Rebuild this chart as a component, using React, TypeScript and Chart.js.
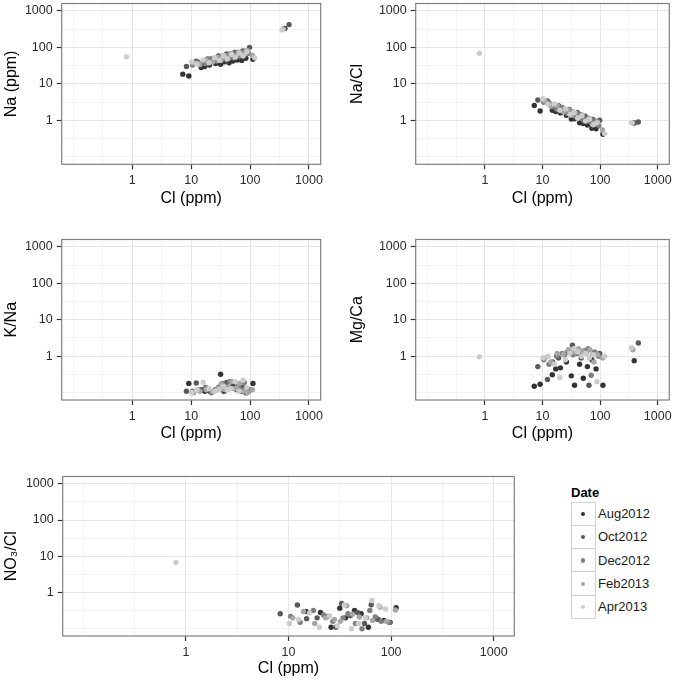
import React, { useEffect, useRef } from "react";
import { Chart, registerables } from "chart.js";
Chart.register(...registerables);

const FONT = "'Liberation Sans', Arial, Helvetica, sans-serif";

const dates = ["Aug2012", "Oct2012", "Dec2012", "Feb2013", "Apr2013"];
const dateColors = ["#333333", "#595959", "#7f7f7f", "#a6a6a6", "#cccccc"];

const majorTicks = [1, 10, 100, 1000];
const tickLabels = ["1", "10", "100", "1000"];
const minorTicks = [0.1, 0.3162, 3.162, 31.62, 316.2];

// Cl (ppm) per sampling date
const clAug = [7.2, 9.1, 14.8, 17, 20.5, 26, 31.6, 36, 44, 51, 60, 72, 85, 112, 390];
const clOct = [8.3, 12.2, 15, 19, 24, 29, 33, 40, 47, 55, 64, 75, 98, 460];
const clDec = [10.5, 13, 17.5, 22, 27, 34, 38, 45, 52, 62, 70, 80, 95];
const clFeb = [11, 14, 18, 23, 28, 32, 37, 42, 49, 58, 66, 78, 90, 110, 370];
const clApr = [0.8, 10.2, 12.5, 16, 20, 25, 30, 35, 41, 48, 56, 65, 76, 88, 120, 350];

// Na (ppm)
const naAug = [18.5, 16.5, 28, 30, 33, 36, 34.5, 40, 38, 42, 45, 44, 50, 47, 330];
const naOct = [30, 42, 35, 48, 44, 58, 52, 66, 56, 72, 62, 80, 100, 420];
const naDec = [33, 40, 36, 50, 42, 58, 48, 66, 52, 72, 60, 78, 68];
const naFeb = [38, 34, 46, 40, 54, 44, 60, 50, 68, 58, 74, 64, 82, 60, 320];
const naApr = [55, 40, 35, 45, 38, 52, 44, 58, 48, 64, 54, 70, 58, 76, 52, 300];

// Na/Cl
const naClAug = [2.57, 1.81, 1.89, 1.76, 1.61, 1.38, 1.09, 1.11, 0.86, 0.82, 0.75, 0.61, 0.59, 0.42, 0.85];
const naClOct = [3.61, 3.44, 2.33, 2.53, 1.83, 2.0, 1.58, 1.65, 1.19, 1.31, 0.97, 1.07, 1.02, 0.91];
const naClDec = [3.14, 3.08, 2.06, 2.27, 1.56, 1.71, 1.26, 1.47, 1.0, 1.16, 0.86, 0.98, 0.72];
const naClFeb = [3.45, 2.43, 2.56, 1.74, 1.93, 1.38, 1.62, 1.19, 1.39, 1.0, 1.12, 0.82, 0.91, 0.55, 0.86];
const naClApr = [68.8, 3.92, 2.8, 2.81, 1.9, 2.08, 1.47, 1.66, 1.17, 1.33, 0.96, 1.08, 0.76, 0.86, 0.43, 0.86];

// K/Na
const kNaAug = [null, 0.18, 0.12, 0.11, 0.11, 0.12, 0.32, 0.11, 0.13, 0.15, 0.12, 0.11, 0.1, 0.18, null];
const kNaOct = [0.11, 0.185, 0.12, 0.13, 0.11, 0.14, 0.15, 0.19, 0.2, 0.13, 0.17, 0.14, 0.12, null];
const kNaDec = [0.11, 0.12, 0.14, 0.1, 0.12, 0.18, 0.15, 0.2, 0.13, 0.16, 0.12, 0.19, 0.11];
const kNaFeb = [0.1, 0.11, 0.12, 0.11, 0.13, 0.17, 0.12, 0.14, 0.2, 0.13, 0.18, 0.11, 0.1, 0.12, null];
const kNaApr = [null, 0.1, 0.12, 0.19, 0.13, 0.11, 0.12, 0.15, 0.12, 0.13, 0.2, 0.11, 0.22, 0.14, null, null];

// Mg/Ca
const mgCaAug = [0.15, 0.17, 0.31, 0.45, 0.48, 0.7, 0.29, 0.16, 0.6, 0.25, 0.52, 0.8, 0.45, 0.16, 0.75];
const mgCaOct = [0.52, 0.23, 0.7, 0.9, 1.1, 1.3, 2.0, 1.2, 0.9, 1.4, 0.16, 1.1, 1.2, 2.3];
const mgCaDec = [0.8, 0.6, 1.0, 1.2, 1.3, 1.1, 1.5, 1.2, 1.4, 1.6, 0.3, 1.3, 1.0];
const mgCaFeb = [0.9, 0.7, 1.2, 1.1, 1.5, 1.4, 1.3, 1.6, 1.4, 1.2, 1.5, 0.7, 1.1, 0.9, 1.5];
const mgCaApr = [0.96, 0.9, 1.0, 0.6, 0.26, 0.8, 1.2, 1.6, 1.3, 1.0, 1.2, 0.9, 1.1, 0.2, 1.0, 1.7];

// NO3/Cl
const no3ClAug = [null, null, 0.3, null, 0.28, 0.11, 0.37, 0.2, 0.32, 0.26, 0.11, 0.19, 0.17, 0.38, null];
const no3ClOct = [0.26, 0.45, 0.19, 0.2, 0.22, 0.11, 0.5, 0.23, 0.28, 0.14, 0.46, 0.18, 0.15, null];
const no3ClDec = [0.22, 0.15, 0.32, 0.24, 0.16, 0.2, 0.26, 0.14, 0.1, 0.32, 0.21, 0.16, 0.15];
const no3ClFeb = [0.2, 0.3, 0.14, 0.2, 0.18, 0.16, 0.43, 0.25, 0.21, 0.2, 0.17, 0.4, 0.16, 0.33, null];
const no3ClApr = [6.7, 0.14, 0.18, 0.27, 0.11, 0.23, 0.12, 0.45, 0.1, 0.14, 0.2, 0.6, 0.43, 0.35, null, null];

const clSeries = [clAug, clOct, clDec, clFeb, clApr];

type PanelDef = {
  yTitle: string;
  ys: (number | null)[][];
  l: number; t: number; r: number; b: number;
  x0: number; titleX: number; xTitleOff: number;
};

const panels: PanelDef[] = [
  { yTitle: "Na (ppm)", ys: [naAug, naOct, naDec, naFeb, naApr], l: 61.7, t: 2.7, r: 320.7, b: 164.3, x0: 0, titleX: 12, xTitleOff: 34.5 },
  { yTitle: "Na/Cl", ys: [naClAug, naClOct, naClDec, naClFeb, naClApr], l: 415.7, t: 2.7, r: 669.3, b: 164.3, x0: 346, titleX: 357.5, xTitleOff: 34.5 },
  { yTitle: "K/Na", ys: [kNaAug, kNaOct, kNaDec, kNaFeb, kNaApr], l: 61.7, t: 238.3, r: 320.7, b: 400, x0: 0, titleX: 12, xTitleOff: 34 },
  { yTitle: "Mg/Ca", ys: [mgCaAug, mgCaOct, mgCaDec, mgCaFeb, mgCaApr], l: 415.7, t: 238.3, r: 669.3, b: 400, x0: 346, titleX: 357.5, xTitleOff: 34 },
  { yTitle: "NO\u2083/Cl", ys: [no3ClAug, no3ClOct, no3ClDec, no3ClFeb, no3ClApr], l: 62.7, t: 475, r: 514.3, b: 636, x0: 0, titleX: 12, xTitleOff: 33 },
];

const isMajor = (v: any) => majorTicks.indexOf(v) >= 0;

const framePlugin = {
  id: "frame",
  afterDatasetsDraw(chart: any) {
    const { ctx, chartArea: a } = chart;
    ctx.save();
    ctx.strokeStyle = "#808080";
    ctx.lineWidth = 1.2;
    ctx.strokeRect(a.left, a.top, a.right - a.left, a.bottom - a.top);
    ctx.restore();
  },
};

function logAxis(title: string, titlePad: any) {
  const all = [...minorTicks, ...majorTicks].sort((a, b) => a - b);
  return {
    type: "logarithmic",
    min: Math.pow(10, -1.2),
    max: Math.pow(10, 3.2),
    afterBuildTicks: (s: any) => {
      s.ticks = all.map((v) => ({ value: v }));
    },
    ticks: {
      autoSkip: false,
      maxRotation: 0,
      minRotation: 0,
      padding: 4,
      color: "#2b2b2b",
      font: { family: FONT, size: 12.5 },
      callback: (v: any) => {
        const i = majorTicks.indexOf(v);
        return i >= 0 ? tickLabels[i] : "";
      },
    },
    grid: {
      color: (c: any) => (c.tick && isMajor(c.tick.value) ? "#e6e6e6" : "#f3f3f3"),
      lineWidth: 1,
      tickColor: (c: any) => (c.tick && isMajor(c.tick.value) ? "#333333" : "rgba(0,0,0,0)"),
      tickLength: 5,
      tickWidth: 1.2,
    },
    border: { display: false },
    title: {
      display: true,
      text: title,
      color: "#000000",
      font: { family: FONT, size: 16 },
      padding: titlePad,
    },
  };
}

function Panel({ p }: { p: PanelDef }) {
  const ref = useRef<HTMLCanvasElement>(null);
  const y0 = Math.floor(p.t) - 10;
  const W = Math.ceil(p.r + 14) - p.x0;
  const H = Math.ceil(p.b + 52) - y0;
  const yW = p.l - p.x0;
  const xH = y0 + H - p.b;
  const padTop = p.t - y0;
  const padRight = p.x0 + W - p.r;
  const yTitlePad = p.titleX - p.x0 - 9.6;
  const xTitlePad = xH - 9.6 - p.xTitleOff;

  useEffect(() => {
    const datasets = dates.map((d, i) => ({
      label: d,
      data: clSeries[i]
        .map((x, j) => ({ x, y: p.ys[i][j] }))
        .filter((pt) => pt.y !== null && pt.y !== undefined),
      backgroundColor: dateColors[i],
      borderWidth: 0,
      pointRadius: 2.7,
      pointHoverRadius: 2.7,
      order: dates.length - 1 - i,
    }));
    const xAxis: any = logAxis("Cl (ppm)", { top: 0, bottom: xTitlePad });
    xAxis.afterFit = (s: any) => { s.height = xH; };
    const yAxis: any = logAxis(p.yTitle, { top: yTitlePad, bottom: 0 });
    yAxis.afterFit = (s: any) => { s.width = yW; };
    const chart = new Chart(ref.current as HTMLCanvasElement, {
      type: "scatter",
      data: { datasets } as any,
      options: {
        responsive: false,
        animation: false,
        layout: { padding: { left: 0, top: padTop, right: padRight, bottom: 0 } },
        plugins: { legend: { display: false }, tooltip: { enabled: false } },
        scales: { x: xAxis, y: yAxis },
      } as any,
      plugins: [framePlugin],
    });
    return () => chart.destroy();
  }, []);

  return (
    <canvas
      ref={ref}
      width={W}
      height={H}
      style={{ position: "absolute", left: p.x0, top: y0, width: W, height: H }}
    />
  );
}

function Legend() {
  const rowH = 23.3;
  const top0 = 501.5;
  return (
    <div style={{ position: "absolute", left: 0, top: 0, fontFamily: FONT }}>
      <div style={{ position: "absolute", left: 571, top: 484, fontSize: 13, fontWeight: "bold", lineHeight: "17px", color: "#000" }}>
        Date
      </div>
      {dates.map((d, i) => (
        <React.Fragment key={d}>
          <div
            style={{
              position: "absolute",
              left: 570.5,
              top: top0 + i * rowH,
              width: 25,
              height: rowH + 1.5,
              boxSizing: "border-box",
              border: "1.5px solid #d2d2d2",
              background: "#fff",
            }}
          />
          <div
            style={{
              position: "absolute",
              left: 570.5 + 12.5 - 2.3,
              top: top0 + i * rowH + rowH / 2 + 0.75 - 2.3,
              width: 4.6,
              height: 4.6,
              borderRadius: "50%",
              background: dateColors[i],
            }}
          />
          <div
            style={{
              position: "absolute",
              left: 598,
              top: top0 + i * rowH + rowH / 2 + 0.75 - 8,
              fontSize: 13,
              lineHeight: "16px",
              color: "#1a1a1a",
              whiteSpace: "nowrap",
            }}
          >
            {d}
          </div>
        </React.Fragment>
      ))}
    </div>
  );
}

export default function App() {
  return (
    <div style={{ position: "absolute", left: 0, top: 0, width: 680, height: 680, background: "#fff", overflow: "hidden" }}>
      {panels.map((p, i) => (
        <Panel key={i} p={p} />
      ))}
      <Legend />
    </div>
  );
}
